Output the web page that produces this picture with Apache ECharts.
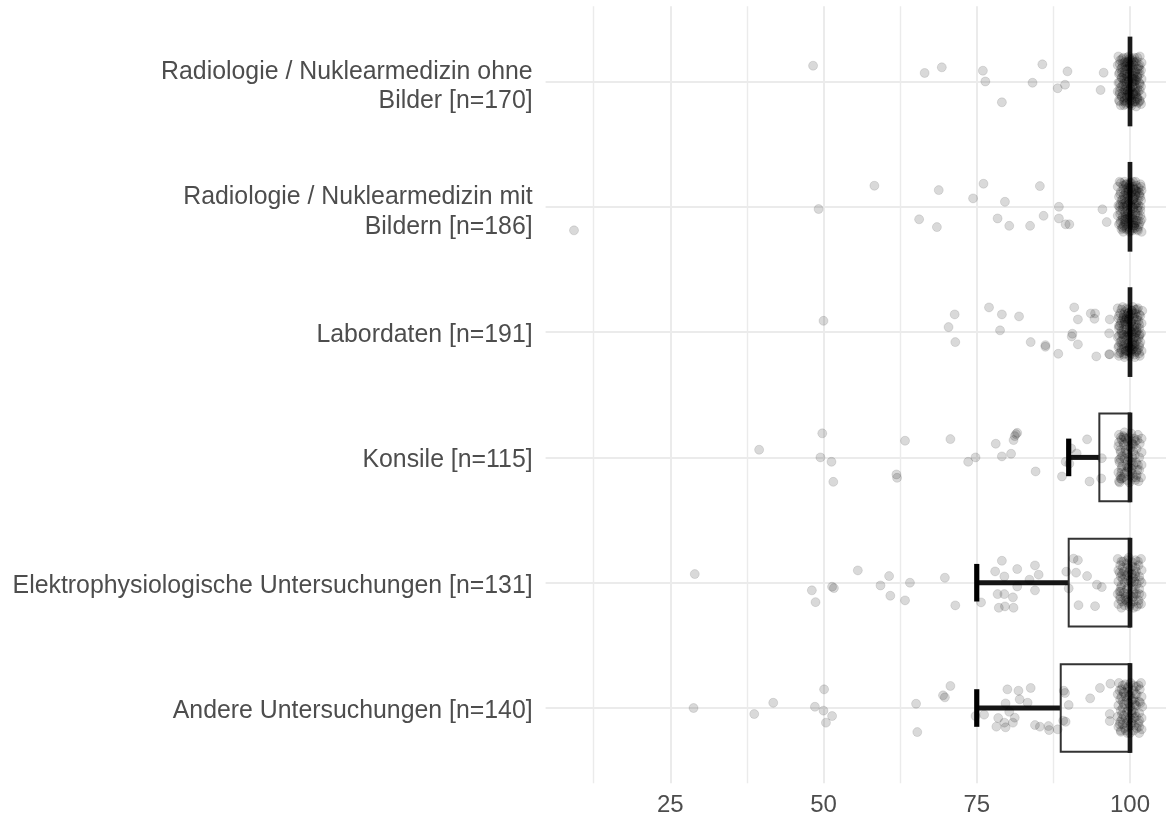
<!DOCTYPE html>
<html>
<head>
<meta charset="utf-8">
<script src="https://cdn.jsdelivr.net/npm/echarts@6/dist/echarts.min.js"></script>
<style>
html,body{margin:0;padding:0;background:#fff;}
#chart{width:1166px;height:818px;}
</style>
</head>
<body>
<div id="chart"></div>
<script>
// ---------- DATA ----------
const categories = [
  "Radiologie / Nuklearmedizin ohne\nBilder [n=170]",
  "Radiologie / Nuklearmedizin mit\nBildern [n=186]",
  "Labordaten [n=191]",
  "Konsile [n=115]",
  "Elektrophysiologische Untersuchungen [n=131]",
  "Andere Untersuchungen [n=140]"
];
const xTicks = [25, 50, 75, 100];

// box statistics per category
const q1Values      = [100, 100, 100, 95, 90, 88.7];
const medianValues  = [100, 100, 100, 100, 100, 100];
const q3Values      = [100, 100, 100, 100, 100, 100];
const whiskerLow    = [100, 100, 100, 90, 75, 75];

// jittered points: [value, vertical jitter offset]
const outliers0 = [[48.3,-0.126],[66.5,-0.068],[69.3,-0.113],[76.0,-0.086],[76.4,0.0],[79.1,0.166],[84.1,0.01],[85.7,-0.137],[88.2,0.054],[89.4,0.026],[89.8,-0.081],[95.2,0.068],[95.7,-0.07]];
const outliers1 = [[9.3,0.188],[49.2,0.018],[58.3,-0.168],[68.8,-0.133],[65.6,0.1],[68.5,0.162],[74.4,-0.067],[76.1,-0.184],[79.6,-0.04],[78.4,0.093],[80.3,0.152],[83.7,0.152],[85.3,-0.165],[85.9,0.072],[88.4,0.0],[88.4,0.093],[89.5,0.14],[90.1,0.14],[95.5,0.02],[96.2,0.122]];
const outliers2 = [[50.0,-0.09],[71.4,-0.141],[70.4,-0.04],[71.5,0.08],[77.0,-0.197],[79.1,-0.141],[78.8,-0.014],[81.9,-0.125],[83.8,0.08],[86.2,0.104],[86.2,0.117],[88.3,0.173],[90.9,-0.197],[91.5,-0.101],[90.6,0.013],[90.5,0.035],[91.5,0.098],[93.6,-0.149],[94.3,-0.149],[94.2,-0.106],[96.7,-0.101],[96.6,0.01],[94.5,0.194],[96.6,0.176],[96.7,0.178]];
const outliers3 = [[39.5,-0.061],[49.8,-0.192],[49.5,0.0],[51.3,0.035],[51.6,0.195],[61.9,0.136],[62.0,0.163],[63.3,-0.133],[70.7,-0.146],[73.6,0.035],[74.8,0.0],[78.1,-0.109],[79.1,-0.008],[80.6,-0.029],[81.0,-0.138],[81.4,-0.186],[81.6,-0.196],[81.2,-0.17],[84.6,0.112],[88.9,0.152],[90.4,-0.072],[91.3,-0.032],[89.5,0.035],[90.1,0.05],[93.0,-0.144],[93.4,0.192],[95.4,0.006],[95.3,0.168]];
const outliers4 = [[29.0,-0.069],[48.1,0.061],[48.7,0.155],[51.4,0.032],[51.7,0.043],[55.6,-0.098],[59.3,0.022],[60.7,-0.053],[60.9,0.104],[63.3,0.141],[64.1,0.0],[69.8,-0.04],[71.5,0.181],[75.7,0.157],[78.0,-0.09],[79.1,-0.175],[79.5,-0.05],[78.4,0.091],[79.5,0.091],[80.9,0.117],[78.6,0.2],[79.6,0.189],[81.0,0.2],[81.6,-0.109],[81.6,0.03],[83.6,-0.024],[84.5,-0.138],[85.1,-0.064],[84.5,0.061],[89.6,-0.088],[90.8,-0.192],[91.5,-0.18],[91.2,-0.08],[90.0,0.045],[93.0,-0.053],[94.6,0.016],[95.4,0.035],[91.6,0.179],[94.3,0.187]];
const outliers5 = [[28.8,0.0],[38.7,0.048],[41.8,-0.042],[48.6,-0.01],[50.1,-0.149],[50.0,0.021],[51.4,0.064],[50.4,0.117],[65.1,-0.034],[65.3,0.192],[69.5,-0.101],[69.8,-0.085],[70.7,-0.176],[74.8,0.064],[76.2,0.053],[78.2,0.149],[78.5,0.08],[79.7,-0.037],[79.7,0.154],[79.5,0.117],[80.0,-0.149],[80.3,0.03],[80.9,0.117],[81.2,0.077],[81.8,-0.138],[82.0,-0.069],[83.3,-0.042],[83.8,-0.16],[84.5,0.136],[85.3,0.149],[86.7,0.144],[86.8,0.176],[88.2,0.17],[89.2,-0.138],[89.4,-0.12],[89.1,0.101],[89.5,0.11],[90.0,-0.024],[93.5,-0.077],[95.1,-0.16],[96.8,-0.194],[96.7,0.048],[96.7,0.104]];

// points clustered around 100 (jittered), read as a dense blob
const cluster0 = [[98.1,-0.2],[98.9,-0.19],[99.8,-0.2],[100.7,-0.19],[101.6,-0.2],[98.4,-0.17],[99.3,-0.16],[100.2,-0.17],[101.1,-0.16],[101.9,-0.15],[98.0,-0.13],[98.8,-0.14],[99.7,-0.12],[100.6,-0.13],[101.4,-0.12],[98.5,-0.1],[99.2,-0.09],[100.1,-0.1],[100.9,-0.08],[101.8,-0.09],[98.2,-0.06],[99.0,-0.05],[99.9,-0.07],[100.5,-0.05],[101.3,-0.06],[98.6,-0.03],[99.5,-0.02],[100.3,-0.03],[101.0,-0.01],[101.9,-0.02],[98.1,0.01],[98.9,0.02],[99.8,0.0],[100.7,0.02],[101.5,0.01],[98.4,0.05],[99.3,0.04],[100.1,0.06],[100.9,0.05],[101.8,0.04],[98.0,0.08],[98.8,0.09],[99.6,0.08],[100.5,0.09],[101.3,0.08],[98.6,0.12],[99.4,0.11],[100.2,0.13],[101.1,0.12],[101.9,0.11],[98.2,0.15],[99.0,0.16],[99.9,0.15],[100.8,0.16],[101.6,0.15],[98.5,0.19],[99.3,0.18],[100.3,0.19],[101.0,0.2],[101.8,0.18],[99.5,-0.15],[100.0,-0.11],[99.6,-0.04],[100.4,0.01],[99.7,0.07],[100.0,0.12],[99.5,0.17],[100.6,-0.16],[100.8,-0.02],[99.1,0.13],[100.4,0.17],[99.2,-0.12],[101.2,0.14],[98.7,-0.07],[101.5,-0.1],[98.3,0.1],[100.9,0.1],[99.9,-0.18],[99.4,0.0],[101.2,-0.04]];
const cluster1 = [[98.3,-0.2],[99.1,-0.2],[100.0,-0.19],[100.9,-0.2],[101.7,-0.18],[98.0,-0.16],[98.9,-0.17],[99.7,-0.15],[100.5,-0.16],[101.4,-0.15],[98.5,-0.12],[99.3,-0.13],[100.2,-0.11],[101.0,-0.12],[101.9,-0.13],[98.2,-0.08],[99.0,-0.09],[99.8,-0.08],[100.7,-0.07],[101.5,-0.09],[98.6,-0.05],[99.4,-0.04],[100.3,-0.05],[101.1,-0.03],[101.8,-0.05],[98.1,-0.01],[98.9,0.0],[99.7,-0.02],[100.6,0.01],[101.4,-0.01],[98.4,0.03],[99.2,0.04],[100.1,0.03],[100.9,0.05],[101.7,0.03],[98.0,0.07],[98.8,0.08],[99.6,0.06],[100.4,0.08],[101.3,0.07],[98.5,0.11],[99.3,0.1],[100.2,0.12],[101.0,0.11],[101.9,0.1],[98.2,0.14],[99.0,0.15],[99.8,0.14],[100.7,0.15],[101.5,0.14],[98.6,0.18],[99.5,0.17],[100.4,0.19],[101.2,0.18],[101.9,0.2],[98.9,0.2],[99.9,0.2],[100.8,-0.14],[99.6,-0.1],[100.0,-0.03],[99.5,0.01],[100.3,0.06],[99.9,0.09],[100.6,0.13],[99.2,0.12],[100.5,-0.2],[99.4,-0.18],[100.9,-0.09],[98.7,0.16],[101.6,-0.11],[98.3,0.0],[101.2,0.01],[99.1,-0.06],[100.8,0.17],[99.8,-0.12],[100.1,-0.15],[101.4,0.16],[98.8,-0.02],[100.6,-0.06],[99.3,0.08]];
const cluster2 = [[98.0,-0.19],[98.8,-0.2],[99.6,-0.18],[100.5,-0.2],[101.3,-0.19],[102.0,-0.17],[98.4,-0.15],[99.2,-0.16],[100.1,-0.14],[100.9,-0.15],[101.7,-0.13],[98.1,-0.11],[98.9,-0.12],[99.8,-0.1],[100.6,-0.11],[101.4,-0.09],[98.5,-0.07],[99.3,-0.06],[100.2,-0.08],[101.0,-0.06],[101.9,-0.07],[98.2,-0.03],[99.0,-0.02],[99.9,-0.04],[100.7,-0.02],[101.5,-0.03],[98.6,0.01],[99.4,0.0],[100.3,0.02],[101.1,0.0],[101.8,0.01],[98.0,0.04],[98.9,0.05],[99.7,0.04],[100.5,0.06],[101.4,0.05],[98.4,0.08],[99.2,0.09],[100.0,0.08],[100.9,0.1],[101.7,0.08],[98.1,0.12],[99.0,0.13],[99.8,0.11],[100.6,0.13],[101.5,0.12],[98.5,0.16],[99.3,0.15],[100.2,0.17],[101.0,0.16],[101.9,0.15],[98.2,0.19],[99.1,0.2],[99.9,0.19],[100.8,0.2],[101.6,0.19],[99.5,-0.13],[100.3,-0.17],[99.6,-0.08],[100.4,-0.04],[99.5,0.03],[100.1,0.11],[99.6,0.15],[100.7,0.09],[99.1,-0.09],[101.2,-0.12],[98.7,0.1],[101.3,0.14],[100.0,-0.01],[99.2,0.17],[100.8,-0.18],[98.3,-0.05],[101.6,0.02],[99.7,-0.15],[100.4,0.14],[98.8,0.02],[100.9,0.04],[99.4,-0.11],[101.1,-0.04],[100.2,0.0]];
const cluster3 = [[98.2,-0.18],[99.1,-0.2],[100.2,-0.19],[101.3,-0.18],[101.9,-0.15],[98.6,-0.14],[99.6,-0.13],[100.7,-0.15],[101.6,-0.11],[98.1,-0.09],[99.0,-0.1],[100.1,-0.08],[101.1,-0.07],[101.9,-0.04],[98.5,-0.04],[99.5,-0.03],[100.5,-0.05],[101.5,0.0],[98.2,0.02],[99.1,0.01],[100.0,0.03],[101.0,0.04],[101.9,0.06],[98.7,0.07],[99.6,0.08],[100.6,0.06],[101.5,0.1],[98.1,0.12],[99.1,0.13],[100.1,0.11],[101.1,0.14],[101.8,0.16],[98.6,0.17],[99.5,0.18],[100.5,0.16],[101.4,0.19],[98.3,0.2],[99.9,0.2],[99.0,-0.16],[100.4,-0.11],[98.4,-0.06],[99.8,0.0],[100.3,0.09],[98.4,0.15],[99.3,-0.06],[100.9,0.18],[98.2,-0.12],[98.3,0.04],[98.2,0.19],[101.2,-0.14]];
const cluster4 = [[98.0,-0.19],[98.9,-0.17],[99.8,-0.2],[100.9,-0.18],[101.8,-0.19],[98.4,-0.14],[99.4,-0.15],[100.4,-0.13],[101.4,-0.14],[98.1,-0.1],[99.0,-0.09],[100.0,-0.11],[101.0,-0.09],[101.9,-0.1],[98.5,-0.05],[99.5,-0.06],[100.5,-0.04],[101.5,-0.05],[98.1,-0.01],[99.1,0.0],[100.1,-0.02],[101.1,0.01],[101.9,0.0],[98.5,0.04],[99.5,0.05],[100.5,0.03],[101.5,0.05],[98.0,0.09],[99.0,0.08],[100.0,0.1],[101.0,0.09],[101.9,0.1],[98.4,0.13],[99.4,0.14],[100.4,0.12],[101.4,0.14],[98.1,0.17],[99.1,0.18],[100.1,0.17],[101.1,0.19],[101.8,0.17],[98.6,0.2],[100.6,0.2],[99.6,-0.12],[100.6,0.08],[99.3,0.11],[98.8,-0.03],[100.8,-0.07],[99.8,0.15],[98.3,0.07]];
const cluster5 = [[98.2,-0.2],[99.2,-0.19],[100.1,-0.2],[101.0,-0.17],[101.8,-0.2],[98.6,-0.15],[99.6,-0.16],[100.6,-0.14],[101.6,-0.15],[98.0,-0.11],[99.0,-0.12],[100.0,-0.1],[101.1,-0.11],[101.9,-0.09],[98.4,-0.07],[99.4,-0.06],[100.5,-0.07],[101.5,-0.05],[98.1,-0.02],[99.0,-0.03],[100.0,-0.01],[101.0,-0.02],[102.0,-0.01],[98.5,0.02],[99.5,0.03],[100.5,0.02],[101.5,0.04],[98.0,0.07],[99.0,0.06],[100.0,0.08],[101.0,0.07],[101.9,0.08],[98.4,0.11],[99.4,0.12],[100.4,0.1],[101.4,0.12],[98.1,0.15],[99.1,0.16],[100.1,0.14],[101.1,0.16],[101.9,0.17],[98.5,0.19],[99.6,0.2],[100.6,0.18],[101.5,0.2],[99.8,-0.13],[100.3,0.05],[98.7,0.09],[100.8,-0.05],[99.3,0.18],[98.3,-0.14],[98.3,0.13]];

// further points in the dense core of each blob
const core0 = [[98.7,-0.18],[99.5,-0.19],[100.4,-0.18],[101.2,-0.19],[98.3,-0.14],[99.1,-0.15],[99.9,-0.14],[100.8,-0.15],[101.6,-0.13],[98.7,-0.11],[99.5,-0.1],[100.4,-0.11],[101.2,-0.1],[98.3,-0.07],[99.1,-0.07],[99.9,-0.06],[100.8,-0.07],[101.6,-0.06],[98.7,-0.03],[99.5,-0.04],[100.4,-0.02],[101.2,-0.03],[98.3,0.01],[99.1,0.0],[99.9,0.02],[100.8,0.0],[101.6,0.02],[98.7,0.04],[99.5,0.05],[100.4,0.04],[101.2,0.05],[98.3,0.08],[99.1,0.07],[99.9,0.09],[100.8,0.08],[101.6,0.07],[98.7,0.12],[99.5,0.12],[100.4,0.11],[101.2,0.13],[98.3,0.16],[99.1,0.15],[99.9,0.17],[100.8,0.16],[101.6,0.16],[99.0,0.19],[100.0,0.18],[101.3,0.17],[99.7,-0.16],[100.2,-0.08],[99.8,-0.01],[100.1,0.05],[99.8,0.1],[100.2,0.15],[99.4,-0.12],[100.6,-0.04],[99.3,0.06],[100.6,0.1],[100.0,-0.13],[99.6,0.13],[100.5,0.0],[99.0,-0.02],[101.0,0.09],[99.9,0.07],[100.3,-0.15]];
const core1 = [[98.5,-0.19],[99.3,-0.18],[100.2,-0.19],[101.0,-0.17],[101.8,-0.16],[98.9,-0.14],[99.7,-0.13],[100.6,-0.14],[101.3,-0.12],[98.4,-0.1],[99.3,-0.11],[100.1,-0.09],[100.9,-0.1],[101.7,-0.08],[98.8,-0.06],[99.6,-0.07],[100.5,-0.06],[101.3,-0.05],[98.4,-0.02],[99.2,-0.03],[100.1,-0.01],[100.9,-0.02],[101.7,0.0],[98.8,0.02],[99.6,0.03],[100.5,0.01],[101.3,0.03],[98.4,0.06],[99.2,0.05],[100.0,0.07],[100.9,0.06],[101.7,0.07],[98.8,0.1],[99.6,0.09],[100.5,0.1],[101.3,0.11],[98.4,0.13],[99.2,0.13],[100.1,0.14],[100.9,0.13],[101.7,0.12],[98.8,0.17],[99.7,0.16],[100.5,0.17],[101.3,0.19],[99.9,-0.17],[100.3,-0.12],[99.8,-0.05],[100.2,0.0],[99.9,0.05],[100.3,0.09],[99.9,0.12],[99.5,-0.15],[100.7,-0.02],[99.1,0.1],[100.7,0.15],[99.5,-0.01],[101.0,-0.13],[99.4,0.18],[100.0,0.19]];
const core2 = [[98.6,-0.18],[99.4,-0.19],[100.3,-0.17],[101.1,-0.18],[98.2,-0.13],[99.0,-0.14],[99.9,-0.13],[100.7,-0.12],[101.5,-0.14],[98.6,-0.09],[99.4,-0.1],[100.3,-0.09],[101.1,-0.1],[98.2,-0.05],[99.0,-0.06],[99.9,-0.05],[100.7,-0.04],[101.5,-0.06],[98.6,-0.01],[99.4,-0.02],[100.3,0.0],[101.1,-0.01],[98.2,0.03],[99.0,0.02],[99.9,0.03],[100.7,0.04],[101.5,0.03],[98.6,0.07],[99.4,0.06],[100.3,0.08],[101.1,0.07],[98.2,0.11],[99.0,0.1],[99.9,0.12],[100.7,0.11],[101.5,0.1],[98.6,0.14],[99.4,0.15],[100.3,0.14],[101.1,0.15],[98.2,0.17],[99.0,0.18],[99.9,0.16],[100.7,0.18],[101.5,0.17],[99.7,-0.15],[100.1,-0.07],[99.7,0.01],[100.1,0.05],[99.7,0.09],[100.1,0.16],[99.2,-0.08],[100.5,-0.15],[99.6,0.12],[100.9,0.01],[98.9,-0.11],[100.4,0.1],[99.8,-0.11],[100.0,0.13]];
const core3 = [[98.9,-0.17],[99.8,-0.16],[100.9,-0.13],[98.9,-0.12],[99.7,-0.09],[100.6,-0.1],[98.7,-0.01],[99.6,0.03],[100.4,0.0],[101.3,0.06],[98.6,0.09],[99.5,0.11],[100.4,0.13],[98.9,0.16],[100.0,0.15],[101.2,0.1],[99.2,-0.04],[100.8,-0.02],[99.4,0.06],[100.2,-0.13],[98.5,-0.16],[98.4,0.01],[98.5,0.17],[101.0,0.16],[99.8,0.08],[100.3,0.04],[98.6,0.12],[99.3,-0.15]];
const core4 = [[98.6,-0.17],[99.5,-0.18],[100.4,-0.16],[101.3,-0.17],[98.8,-0.12],[99.8,-0.08],[100.9,-0.12],[98.7,-0.07],[99.7,-0.02],[100.7,-0.01],[101.6,-0.02],[98.6,0.02],[99.7,0.03],[100.8,0.05],[98.5,0.07],[99.6,0.09],[100.6,0.11],[101.5,0.09],[98.7,0.15],[99.6,0.16],[100.6,0.15],[101.4,0.17],[99.2,-0.05],[100.2,0.0],[99.2,0.13],[100.3,-0.07],[98.3,-0.08],[98.4,0.11],[99.9,0.19],[100.9,-0.05]];
const core5 = [[98.8,-0.18],[99.7,-0.17],[100.6,-0.18],[101.4,-0.18],[98.9,-0.13],[99.8,-0.1],[100.9,-0.11],[98.8,-0.05],[99.8,-0.04],[100.8,-0.03],[101.7,-0.04],[98.8,0.0],[99.7,0.01],[100.8,0.04],[98.7,0.05],[99.7,0.1],[100.7,0.08],[101.5,0.1],[98.8,0.13],[99.7,0.15],[100.7,0.14],[101.5,0.15],[99.3,-0.09],[100.3,-0.06],[99.3,0.08],[100.2,0.12],[98.6,-0.09],[98.5,0.18],[100.0,0.2],[100.2,0.02]];

const outlierSets = [outliers0, outliers1, outliers2, outliers3, outliers4, outliers5];
const clusterSets = [cluster0, cluster1, cluster2, cluster3, cluster4, cluster5];
const coreSets    = [core0, core1, core2, core3, core4, core5];

// ---------- LAYOUT ----------
const W = 1166, H = 818;
const PX_PER_UNIT = 6.13, X100 = 1130;
const PLOT_LEFT = 545.6, PLOT_TOP = 6.3, PLOT_BOTTOM = 783.2;
const xDataMin = 100 - (X100 - PLOT_LEFT) / PX_PER_UNIT;
const xDataMax = 100 + (W - X100) / PX_PER_UNIT;
const yUnit = (PLOT_BOTTOM - PLOT_TOP) / 6.2;
const BOX_W = 0.7, CAP_W = 0.3;
const FONT = "'Liberation Sans', Arial, Helvetica, sans-serif";
const TXT = '#4d4d4d';
const LABEL_SIZE = 24.85;
const SHIFT_ONE = 3.2, SHIFT_TWO = 5.3;   // text baseline nudges (px)

const pointData = [];
categories.forEach((c, i) => {
  [outlierSets[i], clusterSets[i], coreSets[i]].forEach(set =>
    set.forEach(p => pointData.push([p[0], i + p[1]])));
});
const boxData = categories.map((c, i) => [i, q1Values[i], medianValues[i], q3Values[i], whiskerLow[i]]);

const isTwoLine = s => s.indexOf('\n') >= 0;
const labelGrid = shift => ({left: PLOT_LEFT, right: 0, top: PLOT_TOP + 0.1 * yUnit + shift,
  bottom: H - PLOT_BOTTOM + 0.1 * yUnit - shift, containLabel: false, outerBoundsMode: 'none'});
const labelAxis = (gridIndex, twoLine) => ({
  gridIndex: gridIndex, type: 'category', data: categories, inverse: true, position: 'left',
  axisLine: {show: false}, axisTick: {show: false}, splitLine: {show: false},
  axisLabel: {show: true, margin: 13, color: TXT, fontSize: LABEL_SIZE, lineHeight: 29.4,
    fontFamily: FONT, align: 'right', interval: 0,
    formatter: v => (isTwoLine(v) === twoLine ? v : '')}
});

const chart = echarts.init(document.getElementById('chart'), null, {renderer: 'canvas'});
chart.setOption({
  backgroundColor: '#ffffff',
  animation: false,
  grid: [
    {left: X100 - 100 * PX_PER_UNIT, right: W - X100, top: PLOT_TOP, bottom: H - PLOT_BOTTOM, containLabel: false, outerBoundsMode: 'none'},
    {left: PLOT_LEFT, right: 0, top: PLOT_TOP, bottom: H - PLOT_BOTTOM, containLabel: false, outerBoundsMode: 'none'},
    labelGrid(SHIFT_ONE),
    labelGrid(SHIFT_TWO)
  ],
  xAxis: [
    {gridIndex: 0, type: 'value', min: 0, max: 100, interval: 25,
     axisLine: {show: false}, axisTick: {show: false},
     axisLabel: {show: true, margin: 10, color: TXT, fontSize: 24, fontFamily: FONT,
       showMinLabel: false, showMaxLabel: true,
       formatter: v => (xTicks.indexOf(v) >= 0 ? String(v) : '')},
     splitLine: {show: true, showMinLine: false, lineStyle: {color: '#ebebeb', width: 2}},
     minorTick: {show: false, splitNumber: 2},
     minorSplitLine: {show: true, lineStyle: {color: '#ebebeb', width: 1.4}}},
    {gridIndex: 1, type: 'value', min: xDataMin, max: xDataMax, show: false},
    {gridIndex: 2, type: 'value', min: 0, max: 1, show: false},
    {gridIndex: 3, type: 'value', min: 0, max: 1, show: false}
  ],
  yAxis: [
    {gridIndex: 0, type: 'value', min: 0, max: 1, show: false},
    {gridIndex: 1, type: 'value', min: -0.6, max: 5.6, inverse: true, show: false},
    labelAxis(2, false),
    labelAxis(3, true)
  ],
  series: [
    {
      type: 'scatter', xAxisIndex: 1, yAxisIndex: 1, data: [], silent: true, z: 1,
      markLine: {
        silent: true, z: 1, symbol: ['none', 'none'], animation: false,
        label: {show: false},
        lineStyle: {color: '#ebebeb', width: 2, type: 'solid'},
        emphasis: {disabled: true},
        data: categories.map((c, i) => ({yAxis: i}))
      }
    },
    {
      type: 'custom', xAxisIndex: 1, yAxisIndex: 1, z: 6, silent: true,
      encode: {x: [1, 2, 3, 4], y: 0},
      data: boxData,
      renderItem: function (params, api) {
        const i = api.value(0), q1 = api.value(1), med = api.value(2), q3 = api.value(3), lo = api.value(4);
        const unit = api.size([0, 1])[1];
        const y = api.coord([med, i])[1];
        const xq1 = api.coord([q1, i])[0], xq3 = api.coord([q3, i])[0];
        const xmed = api.coord([med, i])[0], xlo = api.coord([lo, i])[0];
        const hb = BOX_W * unit / 2, hc = CAP_W * unit / 2;
        const children = [];
        if (xq1 - xlo > 0.5) {
          children.push({type: 'rect', shape: {x: xlo, y: y - 2.5, width: xq1 - xlo, height: 5},
            style: {fill: '#151515', stroke: null}});
          children.push({type: 'rect', shape: {x: xlo - 2.6, y: y - hc, width: 5.2, height: 2 * hc},
            style: {fill: '#000000', stroke: null}});
        }
        if (xq3 - xq1 > 0.5) {
          children.push({type: 'rect', shape: {x: xq1, y: y - hb, width: xq3 - xq1, height: 2 * hb},
            style: {stroke: '#333333', lineWidth: 2, fill: null}});
        }
        children.push({type: 'rect', shape: {x: xmed - 2.35, y: y - hb - 1, width: 4.7, height: 2 * hb + 2},
          style: {fill: '#1a1a1a', stroke: null}});
        return {type: 'group', children: children};
      }
    },
    {
      type: 'scatter', xAxisIndex: 1, yAxisIndex: 1, z: 7, silent: true,
      symbol: 'circle', symbolSize: 9, large: false,
      data: pointData,
      itemStyle: {color: 'rgba(0,0,0,0.15)', borderColor: 'rgba(0,0,0,0.1)', borderWidth: 1, opacity: 1}
    }
  ]
});
</script>
</body>
</html>
